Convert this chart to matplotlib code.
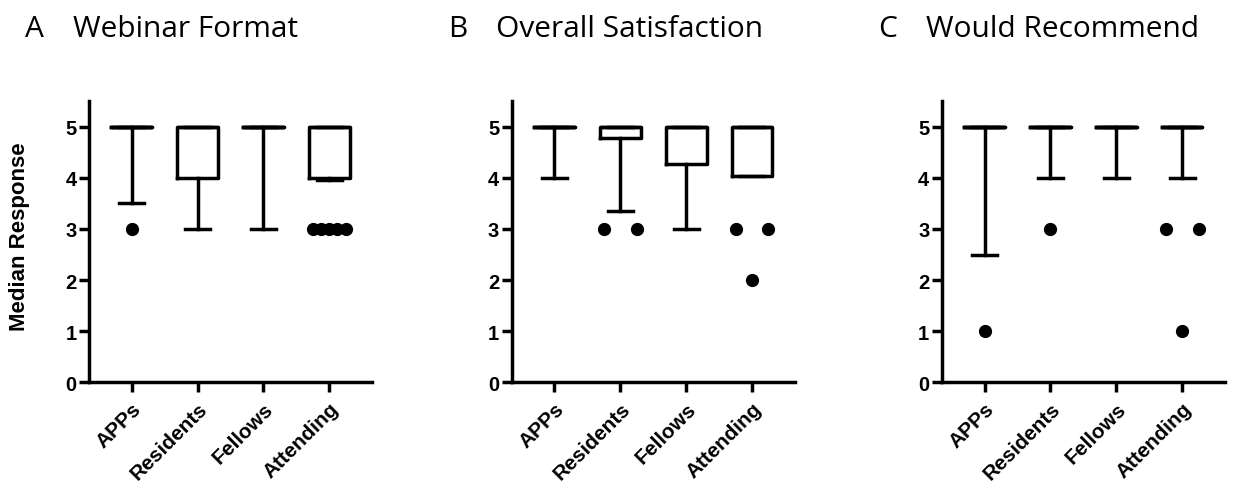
import numpy as np
import matplotlib.pyplot as plt

plt.rcParams['font.family'] = ['Liberation Sans', 'DejaVu Sans']

groups = ['APPs', 'Residents', 'Fellows', 'Attending']
titles = ['Webinar Format', 'Overall Satisfaction', 'Would Recommend']
letters = ['A', 'B', 'C']

# per panel: q1, median, q3, lower whisker, upper whisker, outliers
q1 = [[5, 4, 5, 4], [5, 4.78, 4.28, 4.03], [5, 5, 5, 5]]
med = [[5, 5, 5, 5], [5, 5, 5, 5], [5, 5, 5, 5]]
q3 = [[5, 5, 5, 5], [5, 5, 5, 5], [5, 5, 5, 5]]
wlo = [[3.5, 3, 3, 3.95], [4, 3.35, 3, 4.03], [2.5, 4, 4, 4]]
whi = [[5, 5, 5, 5], [5, 5, 5, 5], [5, 5, 5, 5]]
outliers = [
    [[3], [], [], [3, 3, 3, 3, 3]],
    [[], [3, 3], [], [3, 3, 2]],
    [[1], [3], [], [3, 3, 1]],
]

fig = plt.figure(figsize=(12.36, 4.85), dpi=100)
lefts = [0.072, 0.414, 0.762]
lw = 2.5

for p in range(3):
    ax = fig.add_axes([lefts[p], 0.21, 0.229, 0.579])
    stats = []
    for i in range(4):
        stats.append(dict(q1=q1[p][i], med=med[p][i], q3=q3[p][i],
                          whislo=wlo[p][i], whishi=whi[p][i], fliers=[]))
    ax.bxp(stats, positions=np.arange(1, 5), widths=0.62, capwidths=0.38,
           showfliers=False,
           boxprops=dict(color='black', linewidth=lw),
           medianprops=dict(color='black', linewidth=lw),
           whiskerprops=dict(color='black', linewidth=lw),
           capprops=dict(color='black', linewidth=lw))
    # outliers, duplicates spread sideways
    for i in range(4):
        vals = np.array(outliers[p][i])
        for v in np.unique(vals):
            n = np.sum(vals == v)
            offs = np.linspace(-0.25, 0.25, n) if n > 1 else [0]
            ax.plot(i + 1 + np.array(offs), [v] * n, 'o', color='black',
                    markersize=8.5, zorder=3)

    ax.set_xlim(0.35, 4.65)
    ax.set_ylim(0, 5.5)
    ax.set_yticks(range(6))
    ax.set_xticks(range(1, 5))
    ax.set_xticklabels(groups, rotation=45, ha='right', va='top',
                       rotation_mode='anchor', fontweight='bold', fontsize=15)
    for t in ax.get_yticklabels():
        t.set_fontweight('bold')
        t.set_fontsize(14.5)
    ax.spines['top'].set_visible(False)
    ax.spines['right'].set_visible(False)
    ax.spines['left'].set_linewidth(lw)
    ax.spines['bottom'].set_linewidth(lw)
    ax.tick_params(width=lw, length=7, pad=2)
    ax.tick_params(axis='x', pad=5)
    if p == 0:
        ax.set_ylabel('Median Response', fontweight='bold', fontsize=16)
        ax.yaxis.set_label_coords(-0.21, 0.52)

    fx = lefts[p] * 1236 - 64
    fig.text(fx / 1236, 0.94, letters[p], fontsize=21.5, va='center',
             family=['Open Sans', 'DejaVu Sans'])
    fig.text((fx + 48) / 1236, 0.94, titles[p], fontsize=21.5, va='center',
             family=['Open Sans', 'DejaVu Sans'])

fig.savefig('out.png', dpi=100)
